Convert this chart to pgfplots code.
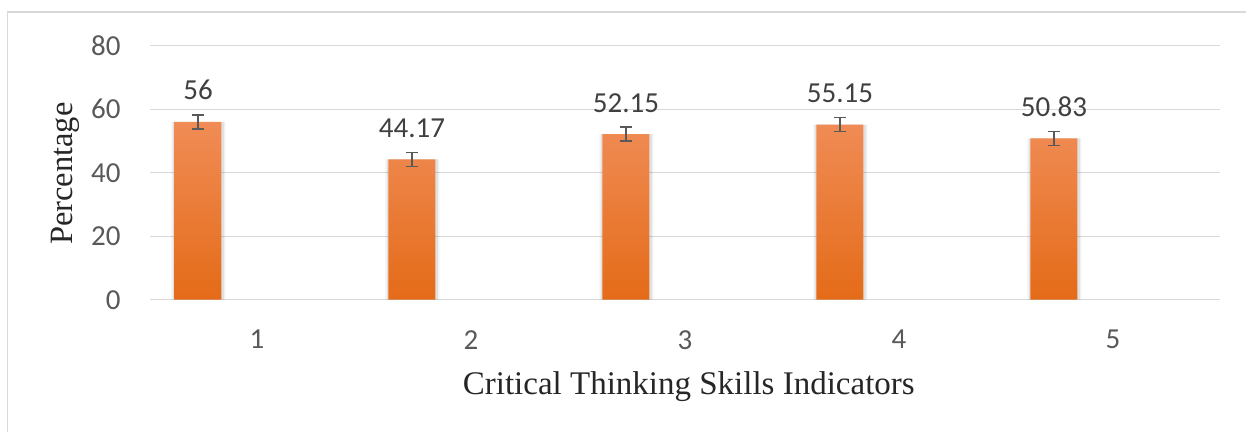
\documentclass[border=0pt]{standalone}
\usepackage{fontspec}
\setmainfont{Liberation Serif}
\newfontfamily\calfont{Carlito}
\usepackage{pgfplots}
\usepackage{pgfplotstable}
\pgfplotsset{compat=1.18}
\definecolor{gridc}{RGB}{217,217,217}
\definecolor{ticklab}{RGB}{89,89,89}
\definecolor{vallab}{RGB}{64,64,64}
\definecolor{errc}{RGB}{89,89,89}
\definecolor{bartop}{RGB}{240,140,86}
\definecolor{barmid}{RGB}{243,128,46}
\definecolor{barbot}{RGB}{228,107,24}
\pgfplotstableread{
x y err label
1 56    2.2 56
2 44.17 2.2 44.17
3 52.15 2.2 52.15
4 55.15 2.2 55.15
5 50.83 2.2 50.83
}\datatable
\begin{document}
\begin{tikzpicture}
\useasboundingbox (0,0) rectangle (1246pt,432pt);
\draw[gridc, line width=1.5pt] (7.3pt,0pt) -- (7.3pt,420pt) -- (1246pt,420pt);
\begin{axis}[
  at={(150pt,132.3pt)}, anchor=south west,
  scale only axis, width=1070pt, height=254pt,
  xmin=0.5, xmax=5.5, ymin=0, ymax=80,
  ytick={0,20,40,60,80}, xtick={1,2,3,4,5},
  ymajorgrids, grid style={gridc, line width=1.4pt},
  axis line style={draw=none}, major tick length=0pt, tick style={draw=none},
  ticklabel style={font=\calfont\fontsize{29}{29}\selectfont, text=ticklab},
  /pgf/number format/assume math mode=true,
  yticklabel style={anchor=east, inner sep=0pt, xshift=-29.3pt},
  xticklabel style={anchor=north, inner sep=0pt, yshift=-30.3pt},
  xlabel={Critical Thinking Skills Indicators},
  xlabel style={at={(axis description cs:0.5036,-0.375)}, anchor=base, inner sep=0pt, font=\fontsize{33}{33}\selectfont, text=black!85},
  ylabel={Percentage},
  ylabel style={at={(axis description cs:-0.072,0.496)}, anchor=base, inner sep=0pt, font=\fontsize{32.5}{32.5}\selectfont, text=black!85},
  ybar,
  clip=false,
]
\addplot[forget plot, draw=none, fill=black, fill opacity=0.05, bar width=54pt, bar shift=-58.5pt]
  table[x=x, y=y] {\datatable};
\addplot[forget plot, draw=none, fill=black, fill opacity=0.07, bar width=51pt, bar shift=-58.5pt]
  table[x=x, y=y] {\datatable};
\addplot[draw=none, top color=bartop, middle color=barmid, bottom color=barbot, shading angle=0,
  bar width=47pt, bar shift=-59pt,
  error bars/.cd, y dir=both, y explicit,
  error bar style={errc, line width=1.5pt},
  error mark options={rotate=90, mark size=6.2pt, line width=1.5pt, errc},
  ]
  table[x=x, y=y, y error=err, meta=label] {\datatable};
\addplot[draw=none, fill=none, bar width=47pt, bar shift=-59pt,
  point meta=explicit symbolic,
  nodes near coords,
  nodes near coords style={anchor=south, inner sep=0pt, yshift=21.5pt, font=\calfont\fontsize{29}{29}\selectfont, text=vallab}]
  table[x=x, y=y, meta=label] {\datatable};
\end{axis}
\end{tikzpicture}
\end{document}
